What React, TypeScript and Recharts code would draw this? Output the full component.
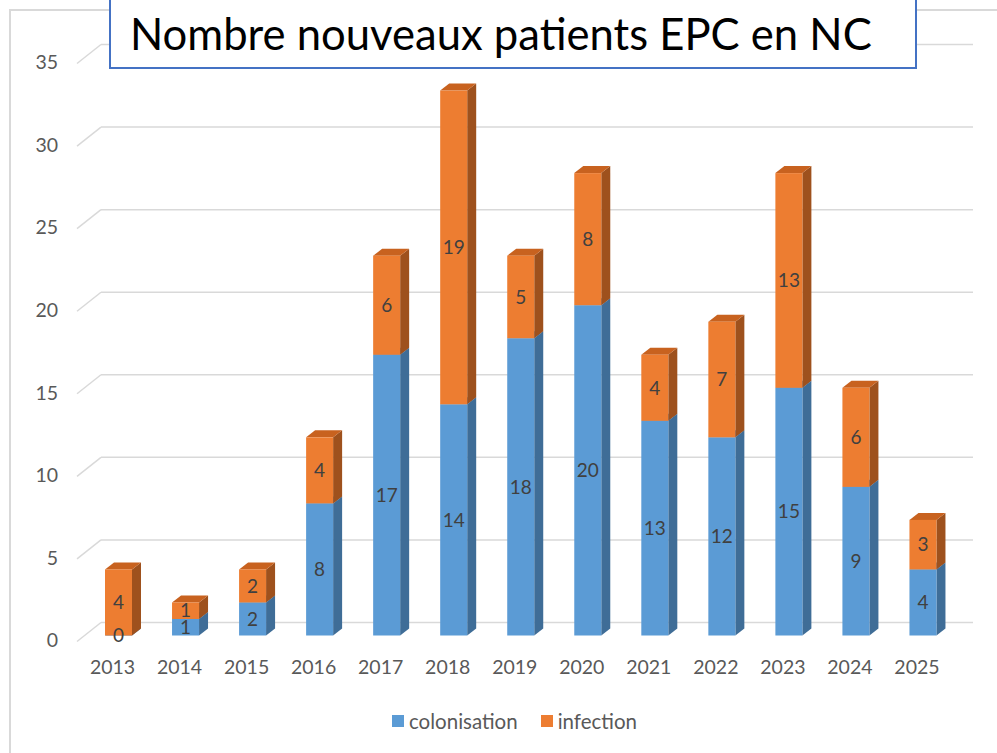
import { Bar, BarChart, CartesianGrid, LabelList, XAxis, YAxis } from 'recharts';

const years = ['2013', '2014', '2015', '2016', '2017', '2018', '2019', '2020', '2021', '2022', '2023', '2024', '2025'];
const colonisation = [0, 1, 2, 8, 17, 14, 18, 20, 13, 12, 15, 9, 4];
const infection = [4, 1, 2, 4, 6, 19, 5, 8, 4, 7, 13, 6, 3];
const yTicks = [0, 5, 10, 15, 20, 25, 30, 35];

const series = [
  { key: 'colonisation', name: 'colonisation', front: '#5B9BD5', side: '#3F6D97', top: '#4C84B8' },
  { key: 'infection', name: 'infection', front: '#ED7D31', side: '#9E511D', top: '#C8621F' },
];

const data = years.map((year, i) => ({ year, colonisation: colonisation[i], infection: infection[i] }));

const FONT = 'Lato, "Open Sans", sans-serif';
const DX = 9;
const DY = 7;

const Bar3D = (p: any) => {
  const { x, y, width, height, front, side, top } = p;
  if (x == null || y == null) return null;
  const r = x + width;
  const b = y + height;
  return (
    <g>
      <polygon points={`${r},${y} ${r + DX},${y - DY} ${r + DX},${b - DY} ${r},${b}`} fill={side} />
      <polygon points={`${x},${y} ${x + DX},${y - DY} ${r + DX},${y - DY} ${r},${y}`} fill={top} />
      <rect x={x} y={y} width={width} height={height} fill={front} />
    </g>
  );
};

const BackGridLine = (p: any) => {
  const { x1, x2, y1 } = p;
  return (
    <g key={p.key}>
      <line x1={x1 - 8} y1={y1 + 6} x2={x1 + 16} y2={y1 - 13} stroke="#D9D9D9" strokeWidth={1.5} />
      <line x1={x1 + 16} y1={y1 - 13} x2={x2 + 16.5} y2={y1 - 13} stroke="#D9D9D9" strokeWidth={1.5} />
    </g>
  );
};

const YTick = ({ x, y, payload }: any) => (
  <text x={x} y={y + 5} dy="0.35em" textAnchor="end" fill="#595959" fontSize={19.5} fontFamily={FONT}>
    {payload.value}
  </text>
);

const XTick = ({ x, y, payload }: any) => (
  <text x={x - 6} y={y + 32} dy="0.35em" textAnchor="middle" fill="#595959" fontSize={19.5} fontFamily={FONT}>
    {payload.value}
  </text>
);

export default function App() {
  return (
    <div style={{ position: 'relative', width: 997, height: 753, overflow: 'hidden', background: '#fff' }}>
      <style>{'body{margin:0;}'}</style>
      <div
        style={{
          position: 'absolute',
          left: 9,
          top: 9,
          width: 1100,
          height: 900,
          border: '2px solid #D9D9D9',
        }}
      />
      <div style={{ position: 'absolute', left: 0, top: 0 }}>
        <BarChart width={997} height={753} data={data} margin={{ top: 57.5, right: 40.5, bottom: 77.5, left: 25 }}>
          <CartesianGrid vertical={false} horizontal={BackGridLine} />
          <XAxis dataKey="year" axisLine={false} tickLine={false} tickSize={0} tickMargin={0} height={40} tick={<XTick />} interval={0} />
          <YAxis
            domain={[0, 35]}
            ticks={yTicks}
            axisLine={false}
            tickLine={false}
            tickSize={0}
            tickMargin={27}
            width={60}
            tick={<YTick />}
          />
          {series.map((s) => (
            <Bar
              key={s.key}
              dataKey={s.key}
              name={s.name}
              stackId="a"
              barSize={27}
              fill={s.front}
              isAnimationActive={false}
              shape={(p: any) => <Bar3D {...p} front={s.front} side={s.side} top={s.top} />}
            >
              <LabelList dataKey={s.key} position="center" fill="#404040" fontSize={19} fontFamily={FONT} />
            </Bar>
          ))}
        </BarChart>
      </div>
      <div
        style={{
          position: 'absolute',
          left: 109,
          top: -4,
          width: 808,
          height: 73,
          border: '2px solid #4472C4',
          background: '#fff',
          boxSizing: 'border-box',
          fontFamily: FONT,
          fontSize: 43.6,
          lineHeight: '70px',
          paddingLeft: 19,
          color: '#000',
          whiteSpace: 'nowrap',
        }}
      >
        Nombre nouveaux patients EPC en NC
      </div>
      <div
        style={{
          position: 'absolute',
          top: 709,
          left: 392,
          display: 'flex',
          alignItems: 'center',
          fontFamily: FONT,
          fontSize: 20.5,
          color: '#595959',
        }}
      >
        {series.map((s, i) => (
          <div key={s.key} style={{ display: 'flex', alignItems: 'center', marginRight: i === 0 ? 23 : 0 }}>
            <span style={{ width: 12, height: 12, background: s.front, marginRight: 5, display: 'inline-block' }} />
            <span>{s.name}</span>
          </div>
        ))}
      </div>
    </div>
  );
}
